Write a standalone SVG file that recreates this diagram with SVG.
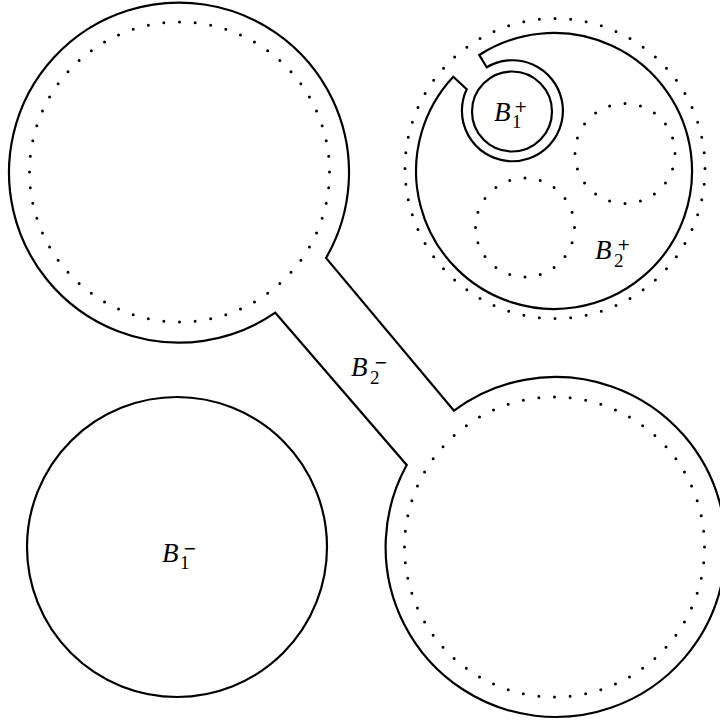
<svg xmlns="http://www.w3.org/2000/svg" width="720" height="726" viewBox="0 0 720 726">
<style>
.solid{fill:none;stroke:#000;stroke-width:2.2;stroke-linejoin:miter}
.dot{fill:none;stroke:#000;stroke-width:3;stroke-linecap:round;stroke-dasharray:0 1}
.lbl{font-family:"Liberation Serif","DejaVu Serif",serif;font-style:italic;font-size:27px;fill:#000}
.s{font-style:normal;font-size:19px}
.p{font-family:"DejaVu Sans","Liberation Sans",sans-serif;font-style:normal;font-size:16px}
</style>
<rect width="720" height="726" fill="#fff"/>
<g id="B2-minus">
<path class="solid" d="M326,258 A170 170 0 1 0 275.3,312.7 L406.7,465 A170 170 0 1 0 454,410.7 Z"/>
<circle class="dot" cx="179.5" cy="172" r="150" pathLength="60"/>
<circle class="dot" cx="554.5" cy="547" r="150" pathLength="60"/>
<text class="lbl" x="351" y="376">B<tspan class="s" x="370" y="384">2</tspan><tspan class="p" x="374" y="368">−</tspan></text>
</g>
<g id="B1-minus">
<circle class="solid" cx="177" cy="547" r="150"/>
<text class="lbl" x="162" y="562">B<tspan class="s" x="180" y="569">1</tspan><tspan class="p" x="183" y="554">−</tspan></text>
</g>
<g id="B2-plus">
<circle class="dot" cx="555" cy="168.5" r="150" pathLength="60"/>
<path class="solid" d="M479.3,55 A138 138 0 1 1 453.3,76.7 L466.7,89.3 A50.5 50.5 0 1 0 486.7,67.3 Z"/>
<circle class="dot" cx="625" cy="153.5" r="50" pathLength="20"/>
<circle class="dot" cx="525" cy="227.5" r="49.5" pathLength="20"/>
<text class="lbl" x="595" y="259">B<tspan class="s" x="614" y="267">2</tspan><tspan class="p" x="617" y="250">+</tspan></text>
</g>
<g id="B1-plus">
<circle class="solid" cx="512" cy="111.5" r="40"/>
<text class="lbl" x="494" y="121">B<tspan class="s" x="512" y="128">1</tspan><tspan class="p" x="514" y="112">+</tspan></text>
</g>
<g id="connectors"/>
</svg>
